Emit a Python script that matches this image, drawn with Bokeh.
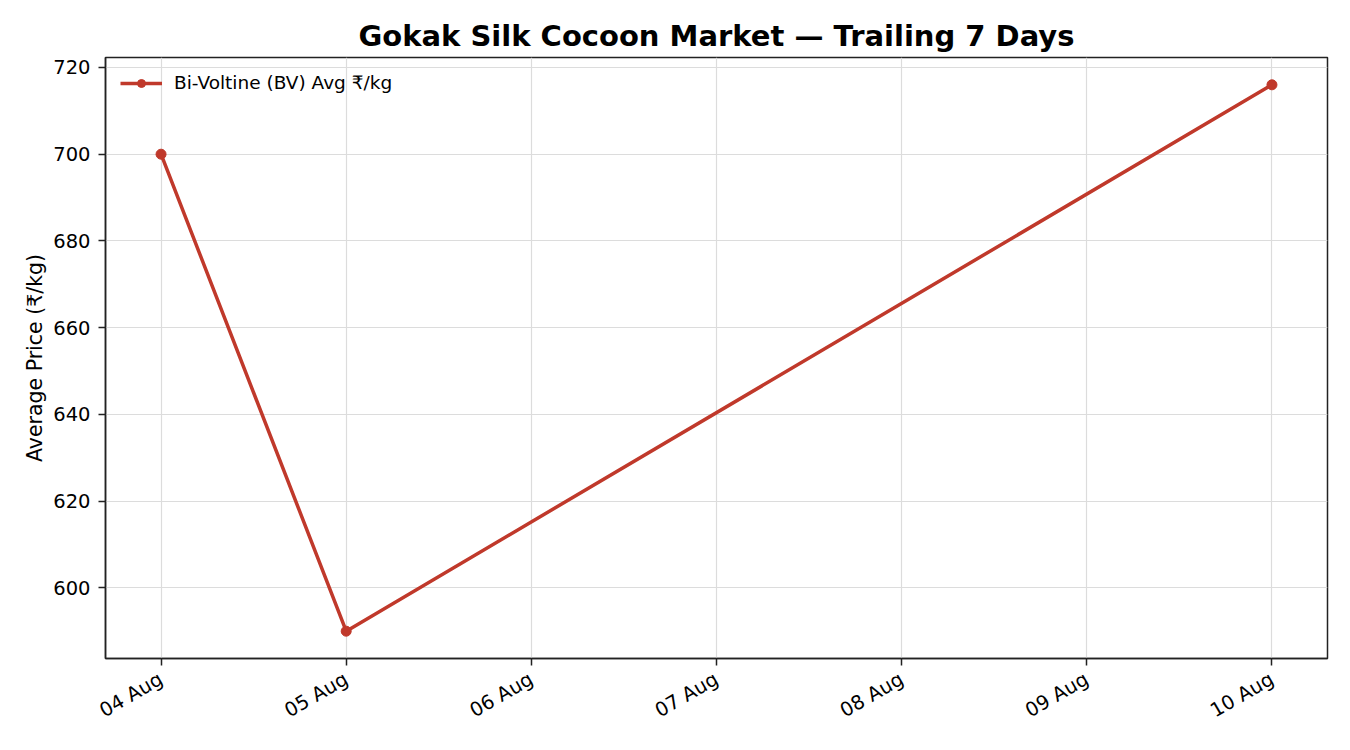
from datetime import datetime
from math import pi
from bokeh.plotting import figure
from bokeh.models import (Range1d, DatetimeTickFormatter, FixedTicker, Legend, LegendItem,
                          ColumnDataSource)
from bokeh.embed import file_html
from bokeh.resources import INLINE

dates = ["2024-08-04", "2024-08-05", "2024-08-10"]
prices = [700, 590, 716]
tick_dates = ["2024-08-04", "2024-08-05", "2024-08-06", "2024-08-07",
              "2024-08-08", "2024-08-09", "2024-08-10"]
y_ticks = [600, 620, 640, 660, 680, 700, 720]
series_name = "Bi-Voltine (BV) Avg ₹/kg"
title_text = "Gokak Silk Cocoon Market — Trailing 7 Days"
y_label = "Average Price (₹/kg)"

FONT = "DejaVu Sans"
COLOR = "#c0392b"

xd = [datetime.strptime(d, "%Y-%m-%d") for d in dates]
xt = [datetime.strptime(d, "%Y-%m-%d") for d in tick_dates]

span = xd[-1] - xd[0]
pad = span * 0.05
ymin, ymax = min(prices), max(prices)
ypad = (ymax - ymin) * 0.05

p = figure(width=1334, height=734, output_backend="svg", toolbar_location=None,
           x_axis_type="datetime",
           x_range=Range1d(xd[0] - pad, xd[-1] + pad),
           y_range=Range1d(ymin - ypad, ymax + ypad),
           min_border_left=105, min_border_right=7, min_border_top=57, min_border_bottom=76)

p.title.text = title_text
p.title.text_font = FONT
p.title.text_font_size = "29px"
p.title.text_font_style = "bold"
p.title.align = "center"
p.title.text_color = "black"
p.title.standoff = 10

src = ColumnDataSource(dict(x=xd, y=prices))
r_line = p.line("x", "y", source=src, line_color=COLOR, line_width=3.5)
r_pts = p.scatter("x", "y", source=src, size=10, fill_color=COLOR, line_color=COLOR)

p.xaxis.ticker = FixedTicker(ticks=[d.timestamp() * 1000 for d in xt])
p.xaxis.formatter = DatetimeTickFormatter(days="%d %b", months="%d %b", hours="%d %b")
p.xaxis.major_label_orientation = pi / 6
p.xaxis.major_label_standoff = 12
p.yaxis.ticker = FixedTicker(ticks=y_ticks)
p.yaxis.axis_label = y_label
p.yaxis.major_label_standoff = 8
p.yaxis.axis_label_standoff = 3

for ax in (p.xaxis[0], p.yaxis[0]):
    ax.major_label_text_font = FONT
    ax.major_label_text_font_size = "19.5px"
    ax.major_label_text_color = "black"
    ax.axis_label_text_font = FONT
    ax.axis_label_text_font_size = "20.5px"
    ax.axis_label_text_font_style = "normal"
    ax.axis_label_text_color = "black"
    ax.major_tick_out = 7
    ax.major_tick_in = 0
    ax.minor_tick_out = 0
    ax.minor_tick_in = 0
    ax.axis_line_color = "#222222"
    ax.major_tick_line_color = "#222222"
    ax.axis_line_width = 1.5
    ax.major_tick_line_width = 1.5

p.outline_line_color = "#222222"
p.outline_line_width = 1.5
p.outline_line_alpha = 1.0

p.xgrid.grid_line_color = "#dcdcdc"
p.ygrid.grid_line_color = "#dcdcdc"
p.xgrid.grid_line_width = 1.2
p.ygrid.grid_line_width = 1.2
p.background_fill_color = "white"
p.border_fill_color = "white"

legend = Legend(items=[LegendItem(label=series_name, renderers=[r_line, r_pts])],
                location="top_left")
legend.border_line_alpha = 0
legend.background_fill_alpha = 0
legend.label_text_font = FONT
legend.label_text_font_size = "18.5px"
legend.label_text_color = "black"
legend.glyph_width = 42
legend.label_standoff = 12
legend.margin = 8
legend.padding = 7
p.add_layout(legend)

open("out.html", "w").write(file_html(p, INLINE))
